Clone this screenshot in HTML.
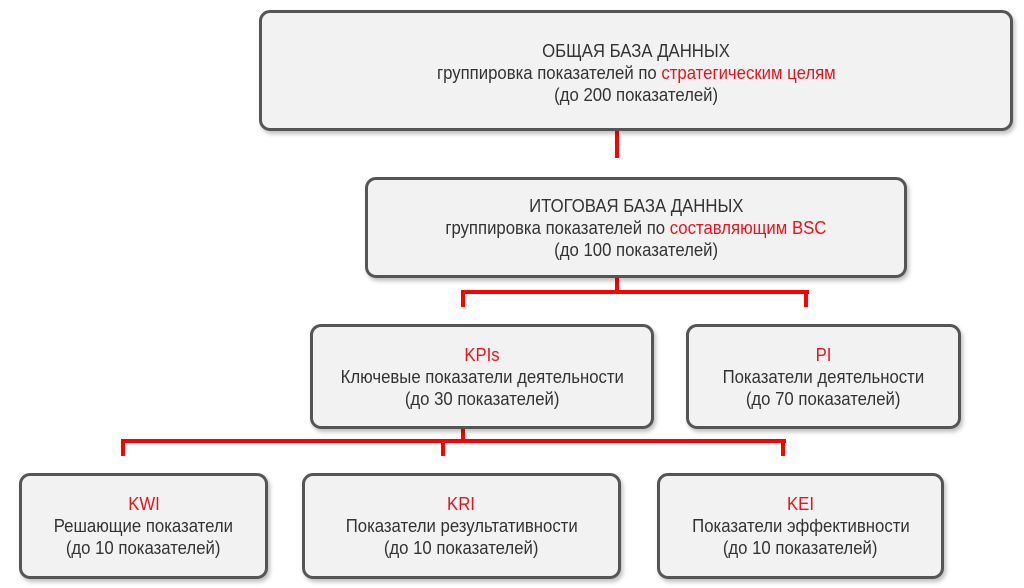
<!DOCTYPE html>
<html><head><meta charset="utf-8"><style>
body{margin:0;width:1024px;height:588px;background:#fff;position:relative;overflow:hidden;font-family:"Liberation Sans",sans-serif;}
.b{position:absolute;box-sizing:border-box;border:3px solid #555;border-radius:11px;background:#f2f2f2;box-shadow:2px 3px 4px rgba(0,0,0,0.25);display:flex;flex-direction:column;justify-content:center;align-items:center;text-align:center;color:#333;font-size:18px;line-height:22px;}
.b div{transform:scaleX(0.93);white-space:nowrap}
.r{color:#e8141c}
.l{position:absolute;background:#f00}
</style></head><body>
<div class="l" style="left:615px;top:130px;width:4px;height:28px"></div>
<div class="l" style="left:615px;top:277px;width:4px;height:17px"></div>
<div class="l" style="left:461px;top:290px;width:348px;height:4px"></div>
<div class="l" style="left:461px;top:290px;width:4px;height:17px"></div>
<div class="l" style="left:804px;top:290px;width:4px;height:17px"></div>
<div class="l" style="left:461px;top:428px;width:4px;height:14px"></div>
<div class="l" style="left:121px;top:439px;width:665px;height:4px"></div>
<div class="l" style="left:121px;top:439px;width:4px;height:17px"></div>
<div class="l" style="left:441px;top:439px;width:4px;height:17px"></div>
<div class="l" style="left:781px;top:439px;width:4px;height:17px"></div>

<div class="b" style="left:259px;top:10px;width:754px;height:121px;padding-top:4px">
<div>ОБЩАЯ БАЗА ДАННЫХ</div><div>группировка показателей по <span class="r">стратегическим целям</span></div><div>(до 200 показателей)</div></div>
<div class="b" style="left:365px;top:177px;width:542px;height:101px">
<div>ИТОГОВАЯ БАЗА ДАННЫХ</div><div>группировка показателей по <span class="r">составляющим BSC</span></div><div>(до 100 показателей)</div></div>
<div class="b" style="left:310px;top:324px;width:344px;height:105px">
<div class="r">KPIs</div><div>Ключевые показатели деятельности</div><div>(до 30 показателей)</div></div>
<div class="b" style="left:686px;top:324px;width:275px;height:105px">
<div class="r">PI</div><div>Показатели деятельности</div><div>(до 70 показателей)</div></div>
<div class="b" style="left:19px;top:473px;width:249px;height:106px">
<div class="r">KWI</div><div>Решающие показатели</div><div>(до 10 показателей)</div></div>
<div class="b" style="left:302px;top:473px;width:319px;height:106px">
<div class="r">KRI</div><div>Показатели результативности</div><div>(до 10 показателей)</div></div>
<div class="b" style="left:657px;top:473px;width:287px;height:106px">
<div class="r">KEI</div><div>Показатели эффективности</div><div>(до 10 показателей)</div></div>
</body></html>
